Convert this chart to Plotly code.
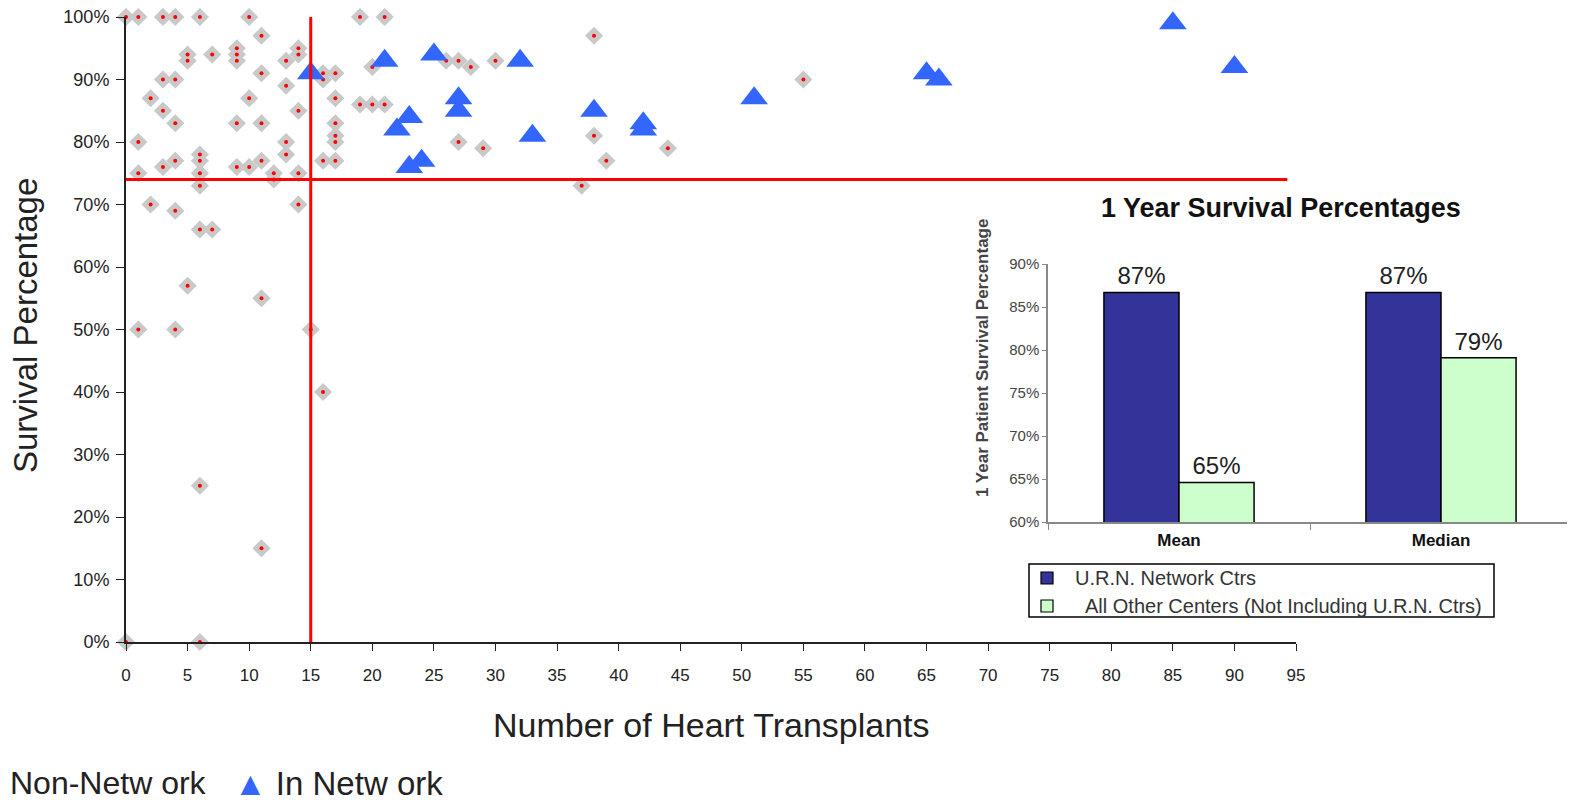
import plotly.graph_objects as go

# ---------------- data ----------------
non_x = [0, 1, 3, 4, 6, 10, 19, 21,
         11, 38,
         5, 5, 7, 9, 9, 9, 14, 14, 13,
         26, 27, 30, 28, 20,
         11, 16, 17, 16, 3, 4, 55,
         13,
         2, 10, 17,
         19, 20, 21,
         3, 14,
         4, 9, 11, 17,
         1, 13, 17, 17, 27, 38,
         29, 44,
         6, 13,
         6, 4, 11, 16, 17, 39,
         3, 9, 10,
         1, 6, 12, 14, 12,
         6, 37,
         2, 14, 4,
         6, 7,
         5, 11,
         1, 4, 15,
         16, 6, 11, 0, 6]
non_y = [100, 100, 100, 100, 100, 100, 100, 100,
         97, 97,
         94, 93, 94, 95, 94, 93, 95, 94, 93,
         93, 93, 93, 92, 92,
         91, 91, 91, 90, 90, 90, 90,
         89,
         87, 87, 87,
         86, 86, 86,
         85, 85,
         83, 83, 83, 83,
         80, 80, 81, 80, 80, 81,
         79, 79,
         78, 78,
         77, 77, 77, 77, 77, 77,
         76, 76, 76,
         75, 75, 75, 75, 74,
         73, 73,
         70, 70, 69,
         66, 66,
         57, 55,
         50, 50, 50,
         40, 25, 15, 0, 0]

net_x = [15, 21, 22, 23, 23, 24, 25, 27, 27, 32, 33, 38, 42, 42, 51, 65, 66, 85, 90]
net_y = [91, 93, 82, 84, 76, 77, 94, 87, 85, 93, 81, 85, 83, 82, 87, 91, 90, 99, 92]

volume_threshold = 15
survival_threshold = 74

x_ticks = list(range(0, 100, 5))
y_ticks = list(range(0, 110, 10))

inset_categories = ["Mean", "Median"]
urn_values = [86.7, 86.7]
other_values = [64.6, 79.1]
inset_ticks = [60, 65, 70, 75, 80, 85, 90]
inset_series = ["U.R.N. Network Ctrs", "All Other Centers (Not Including U.R.N. Ctrs)"]
inset_colors = ["#333399", "#ccffcc"]

FONT = "Liberation Sans, Arial, sans-serif"
W, H = 1575, 803
OFF = 8  # page body margin offset


def px_x(p):
    return (p - OFF) / W


def px_y(p):
    return 1 - (p - OFF) / H


fig = go.Figure()

# Non-network: grey diamond with red centre
fig.add_trace(go.Scatter(
    x=non_x, y=non_y, mode="markers", name="Non-Network", showlegend=False,
    marker=dict(symbol="diamond", size=14, color="#c9c9c9", line=dict(width=0)),
    cliponaxis=False, xaxis="x", yaxis="y"))
fig.add_trace(go.Scatter(
    x=non_x, y=non_y, mode="markers", showlegend=False, hoverinfo="skip",
    marker=dict(symbol="circle", size=4, color="#ff0000", line=dict(width=0)),
    cliponaxis=False, xaxis="x", yaxis="y"))
# In network triangles
fig.add_trace(go.Scatter(
    x=net_x, y=net_y, mode="markers", name="In Network", showlegend=False,
    marker=dict(symbol="triangle-up", size=24, color="#3366ff", line=dict(width=0)),
    cliponaxis=False, xaxis="x", yaxis="y"))

# Inset bars
for name, vals, col in zip(inset_series, [urn_values, other_values], inset_colors):
    fig.add_trace(go.Bar(
        x=inset_categories, y=vals, name=name, showlegend=False,
        marker=dict(color=col, line=dict(color="#000000", width=1.5)),
        text=[f"{v:.0f}%" for v in vals], textposition="outside",
        textfont=dict(size=24, color="#222", family=FONT), cliponaxis=False,
        xaxis="x2", yaxis="y2"))

shapes = [
    dict(type="line", xref="x", yref="y", x0=volume_threshold, x1=volume_threshold,
         y0=0, y1=100.8, line=dict(color="#ff0000", width=3)),
    dict(type="line", xref="x", yref="y", x0=0, x1=94.3,
         y0=survival_threshold, y1=survival_threshold, line=dict(color="#ff0000", width=3)),
    # inset legend box
    dict(type="rect", xref="paper", yref="paper", x0=px_x(1029), x1=px_x(1494),
         y0=px_y(564), y1=px_y(617), line=dict(color="#000", width=1.5), fillcolor="white"),
]
annotations = [
    dict(text="Survival Percentage", x=px_x(25), y=px_y(326), xref="paper", yref="paper",
         xanchor="center", yanchor="middle",
         textangle=-90, showarrow=False, font=dict(size=33, color="#222", family=FONT)),
    dict(text="Number of Heart Transplants", x=px_x(711), y=px_y(725), xref="paper", yref="paper",
         xanchor="center", yanchor="middle",
         showarrow=False, font=dict(size=34, color="#222", family=FONT)),
    dict(text="Non-Netw ork", x=px_x(OFF), y=px_y(783), xref="paper", yref="paper", xanchor="left",
         yanchor="middle",
         showarrow=False, font=dict(size=32, color="#222", family=FONT)),
    dict(text="<span style='color:#3366ff'>▲</span> In Netw ork", x=px_x(232), y=px_y(783),
         xref="paper", yref="paper", xanchor="left", yanchor="middle",
         showarrow=False, font=dict(size=33, color="#222", family=FONT)),
    dict(text="<b>1 Year Survival Percentages</b>", x=px_x(1281), y=px_y(208), xref="paper",
         yref="paper", xanchor="center", yanchor="middle",
         showarrow=False, font=dict(size=27, color="#111", family=FONT)),
    dict(text="<b>1 Year Patient Survival Percentage</b>", x=px_x(982), y=px_y(358), xref="paper",
         yref="paper", xanchor="center", yanchor="middle",
         textangle=-90, showarrow=False, font=dict(size=17, color="#444", family=FONT)),
]

# manual inset legend entries
leg_rows = [(578, 1073), (606, 1083)]
for (cy, tx), name, col in zip(leg_rows, inset_series, inset_colors):
    shapes.append(dict(type="rect", xref="paper", yref="paper",
                       x0=px_x(1041), x1=px_x(1053), y0=px_y(cy - 6), y1=px_y(cy + 6),
                       line=dict(color="#000", width=1.2), fillcolor=col))
    annotations.append(dict(text=name, x=px_x(tx), y=px_y(cy), xref="paper", yref="paper",
                            xanchor="left", yanchor="middle", showarrow=False,
                            font=dict(size=20, color="#333", family=FONT)))

fig.update_layout(
    width=W, height=H, margin=dict(l=0, r=0, t=0, b=0, autoexpand=False),
    paper_bgcolor="white", plot_bgcolor="rgba(0,0,0,0)",
    font=dict(family=FONT, color="#222"),
    barmode="group", bargap=0.427, bargroupgap=0,
    xaxis=dict(domain=[px_x(126), px_x(1296)], range=[0, 95], tickvals=x_ticks,
               ticks="outside", ticklen=7, tickcolor="#222", showline=True, linecolor="#222",
               linewidth=2, showgrid=False, zeroline=False, automargin=False,
               ticklabelstandoff=10, ticklabeloverflow="allow",
               tickfont=dict(size=17, color="#222", family=FONT)),
    yaxis=dict(domain=[px_y(642), px_y(17)], range=[0, 100], tickvals=y_ticks,
               ticktext=[f"{v}%" for v in y_ticks],
               ticks="outside", ticklen=8, tickcolor="#222", showline=True, linecolor="#222",
               linewidth=2, showgrid=False, zeroline=False, automargin=False,
               ticklabelstandoff=3, ticklabeloverflow="allow",
               tickfont=dict(size=18, color="#222", family=FONT)),
    xaxis2=dict(domain=[px_x(1048), px_x(1572)], anchor="y2", type="category",
                tickson="boundaries", ticks="outside", ticklen=6, tickcolor="#888",
                showline=True, linecolor="#888", linewidth=1.5, showgrid=False, automargin=False,
                ticklabelstandoff=2,
                tickfont=dict(size=17, color="#111", family=FONT),
                tickprefix="<b>", ticksuffix="</b>"),
    yaxis2=dict(domain=[px_y(522), px_y(264)], anchor="x2", range=[60, 90],
                tickvals=inset_ticks, ticktext=[f"{v}%" for v in inset_ticks],
                ticks="outside", ticklen=4, tickcolor="#888", showline=True, linecolor="#888",
                linewidth=1.5, showgrid=False, zeroline=False, automargin=False,
                tickfont=dict(size=15, color="#444", family=FONT)),
    showlegend=False,
    shapes=shapes,
    annotations=annotations,
)

fig.write_html("out.html")
